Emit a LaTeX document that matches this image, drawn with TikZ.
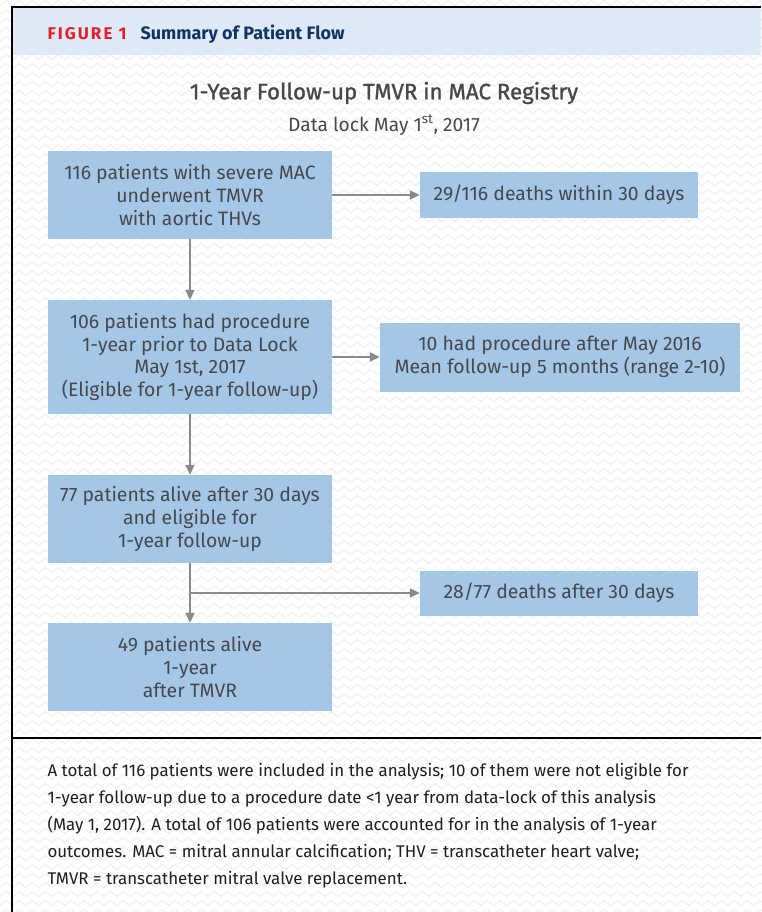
\documentclass[tikz,border=0pt]{standalone}
\usepackage{fontspec}
\setmainfont{Fira Sans}
\newfontfamily\headfont[LetterSpace=12]{Fira Sans}
\usepackage{xcolor}
\usetikzlibrary{arrows.meta, decorations.pathmorphing}

\begin{document}
\begin{tikzpicture}[x=1pt, y=-1pt]
    % --- GLOBAL DEFINITIONS ---
    \def\cx{190} % centre of the left column
    \def\bw{284} % width of the left column boxes

    % Custom colors
    \definecolor{boxfill}{RGB}{164, 198, 231}
    \definecolor{boxtext}{RGB}{72, 72, 74}
    \definecolor{bandfill}{RGB}{222, 234, 246}
    \definecolor{figred}{RGB}{228, 30, 43}
    \definecolor{fignavy}{RGB}{16, 52, 102}
    \definecolor{flowgrey}{RGB}{138, 138, 140}
    \definecolor{wavegrey}{RGB}{241, 241, 241}

    \tikzset{
        flowbox/.style={fill=boxfill, text=boxtext, align=center, inner sep=0pt,
            font=\fontsize{19.4}{22.7}\selectfont},
        mainbox/.style={flowbox, minimum width=\bw},
        flowline/.style={draw=flowgrey, line width=1.8pt, -{Triangle[length=10pt, width=9pt]}},
        frameline/.style={line width=2pt, black}
    }

    \useasboundingbox (0,0) rectangle (761,912);

    % background texture
    \fill[white] (0,0) rectangle (761,912);
    \foreach \y in {3,12,...,912}
        \draw[wavegrey, line width=1.2pt, decorate, decoration={zigzag, segment length=13, amplitude=2.5}]
            (-10,\y) -- (775,\y);

    % header band and frame
    \fill[bandfill] (13,8) rectangle (761,55);
    \draw[frameline] (12,912) -- (12,7) -- (761,7);
    \draw[frameline] (12,738) -- (761,738);
    \node[anchor=base west, text=figred, font=\fontsize{17}{20}\headfont\bfseries] (fig) at (44,40) {FIGURE 1};
    \node[anchor=base west, text=fignavy, font=\fontsize{18}{20}\bfseries] (ttl) at (137,40) {Summary of Patient Flow};

    % titles
    \node[text=boxtext, font=\fontsize{22.3}{26}\selectfont\addfontfeatures{FakeBold=1.2}] (head) at (384,93)
        {1-Year Follow-up TMVR in MAC Registry};
    \node[text=boxtext, font=\fontsize{19.2}{22}\selectfont] (lock) at (384,125)
        {Data lock May 1\textsuperscript{st}, 2017};

    % left column
    \node[mainbox, minimum height=88] (b116) at (\cx,195)
        {116 patients with severe MAC\\underwent TMVR\\with aortic THVs};
    \node[mainbox, minimum height=114] (b106) at (\cx,357)
        {106 patients had procedure\\1-year prior to Data Lock\\May 1st, 2017\\(Eligible for 1-year follow-up)};
    \node[mainbox, minimum height=88] (b77) at (\cx,519)
        {77 patients alive after 30 days\\and eligible for\\1-year follow-up};
    \node[mainbox, minimum height=88] (b49) at (\cx,667)
        {49 patients alive\\1-year\\after TMVR};

    % right column
    \node[flowbox, minimum width=278, minimum height=45] (d29) at (559,195)
        {29/116 deaths within 30 days};
    \node[flowbox, minimum width=360, minimum height=69] (p10) at (560,357)
        {10 had procedure after May 2016\\Mean follow-up 5 months (range 2-10)};
    \node[flowbox, minimum width=278, minimum height=45] (d28) at (559,593)
        {28/77 deaths after 30 days};

    % connectors
    \coordinate (split) at (\cx,593);
    \draw[flowline] (b116) -- (d29);
    \draw[flowline] (b116) -- (b106);
    \draw[flowline] (b106) -- (p10);
    \draw[flowline] (b106) -- (b77);
    \draw[flowline] (b77) -- (b49);
    \draw[flowline] (split) -- (d28);

    % legend text
    \node[anchor=north west, align=left, text=black!88, font=\fontsize{16.9}{27}\selectfont] (legend) at (44,760)
        {A total of 116 patients were included in the analysis; 10 of them were not eligible for\\
         1-year follow-up due to a procedure date <1 year from data-lock of this analysis\\
         (May 1, 2017). A total of 106 patients were accounted for in the analysis of 1-year\\
         outcomes. MAC = mitral annular calcification; THV = transcatheter heart valve;\\
         TMVR = transcatheter mitral valve replacement.};
\end{tikzpicture}
\end{document}
